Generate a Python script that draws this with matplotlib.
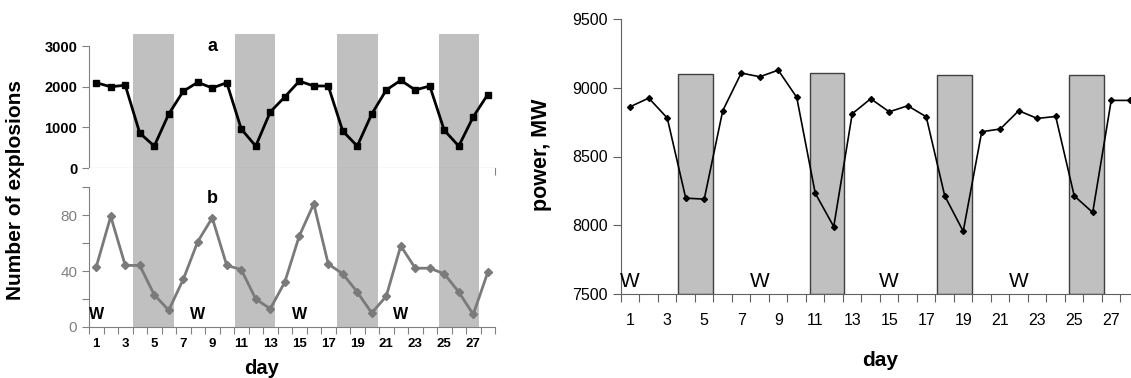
"""Explosions vs. power load by day, with weekends shaded"""

import numpy as np
import matplotlib.pyplot as plt

plt.rcParams['font.family'] = ['Liberation Sans', 'DejaVu Sans']

days = np.arange(1, 29)

# panel a: number of explosions (large)
expl_a = [2100, 2000, 2040, 860, 540, 1330, 1890, 2110, 1970, 2100,
          960, 540, 1380, 1750, 2140, 2020, 2020, 910, 540, 1330,
          1920, 2160, 1920, 2020, 930, 540, 1260, 1810]
# panel b: number of explosions (small)
expl_b = [43, 79, 44, 44, 23, 12, 34, 61, 78, 44,
          41, 20, 13, 32, 65, 88, 45, 38, 25, 10,
          22, 58, 42, 42, 38, 25, 9, 39]
# power consumption, MW
power = [8862, 8925, 8780, 8197, 8190, 8833, 9107, 9080, 9128, 8930,
         8233, 7990, 8811, 8920, 8825, 8869, 8789, 8214, 7956, 8680,
         8700, 8833, 8777, 8791, 8214, 8093, 8908, 8908]

# weekend shading (left chart)
wk_start = [3.55, 10.6, 17.6, 24.65]
wk_end = [6.35, 13.35, 20.4, 27.4]
# weekend bars (right chart)
bar_start = [3.6, 10.7, 17.6, 24.7]
bar_width = [1.85, 1.85, 1.9, 1.9]
bar_top = [9100, 9105, 9090, 9090]
w_days = [1, 8, 15, 22]

W, H = 1131, 378
fig = plt.figure(figsize=(W / 100, H / 100), dpi=100)

def fx(px):
    return px / W

def fy(px):
    return 1 - px / H

axa = fig.add_axes([fx(89), fy(168), fx(406), 134 / H])
axb = fig.add_axes([fx(89), fy(327), fx(406), 159 / H])
axr = fig.add_axes([fx(621), fy(294), fx(510), 275 / H])

spine_col = '#808080'
band_col = '#c0c0c0'

for ax in (axa, axb):
    ax.set_xlim(0.5, 28.5)
    for s0, s1 in zip(wk_start, wk_end):
        ax.axvspan(s0, s1, color=band_col, lw=0, zorder=0)
    ax.spines['top'].set_visible(False)
    ax.spines['right'].set_visible(False)
    ax.spines['left'].set_color(spine_col)
    ax.spines['bottom'].set_color(spine_col)
    ax.spines['bottom'].set_zorder(1)
    ax.set_xticks(np.arange(0.5, 28.6, 1))
    ax.set_xticklabels([])
    ax.tick_params(axis='x', which='major', length=5, color=spine_col)
    ax.tick_params(axis='y', color=spine_col, length=5)

# panel a
axa.plot(days, expl_a, color='black', lw=2, marker='s', ms=5, zorder=3)
axa.set_ylim(0, 3300)
axa.spines['left'].set_bounds(0, 3000)
axa.set_yticks([0, 1000, 2000, 3000])
axa.set_yticklabels(['0', '1000', '2000', '3000'], fontsize=10.5,
                    fontweight='bold')
axa.text(9, 3000, 'a', fontsize=13, fontweight='bold', ha='center',
         va='center')

# panel b
axb.plot(days, expl_b, color='#7a7a7a', lw=2, marker='D', ms=4, zorder=3)
axb.set_ylim(0, 113.6)
axb.spines['left'].set_bounds(0, 100)
axb.set_yticks([0, 20, 40, 60, 80, 100])
axb.set_yticklabels(['0', '', '40', '', '80', ''], fontsize=11,
                    color='#808080')
axb.set_xticks(np.arange(1, 28, 2), minor=True)
axb.set_xticklabels([str(d) for d in range(1, 28, 2)], minor=True,
                    fontsize=9.5, fontweight='bold')
axb.tick_params(axis='x', which='minor', length=0, pad=8)
axb.text(9, 92, 'b', fontsize=13, fontweight='bold', ha='center',
         va='center')
for d in w_days:
    axb.text(d, 9, 'W', fontsize=11.5, fontweight='bold', ha='center',
             va='center')

fig.text(fx(16), fy(190), 'Number of explosions', rotation=90,
         fontsize=15, fontweight='bold', ha='center', va='center')
fig.text(fx(262), fy(368), 'day', fontsize=14.5, fontweight='bold',
         ha='center', va='center')

# right chart: power
axr.bar(bar_start, np.array(bar_top) - 7500, width=bar_width, bottom=7500,
        align='edge', color=band_col, edgecolor='#404040', lw=1, zorder=1)
axr.plot(days, power, color='black', lw=1.2, marker='D', ms=3, zorder=3)
axr.set_xlim(0.5, 28.07)
axr.set_ylim(7500, 9500)
axr.spines['top'].set_visible(False)
axr.spines['right'].set_visible(False)
axr.spines['left'].set_color('#606060')
axr.spines['bottom'].set_color('#606060')
axr.set_yticks([7500, 8000, 8500, 9000, 9500])
axr.set_yticklabels(['7500', '8000', '8500', '9000', '9500'], fontsize=11.5)
axr.tick_params(axis='y', length=6, color='#606060')
axr.set_xticks(np.arange(0.5, 28, 1))
axr.set_xticklabels([])
axr.tick_params(axis='x', which='major', length=6, color='#606060')
axr.set_xticks(np.arange(1, 28, 2), minor=True)
axr.set_xticklabels([str(d) for d in range(1, 28, 2)], minor=True,
                    fontsize=11.5)
axr.tick_params(axis='x', which='minor', length=0, pad=14)
for d in w_days:
    axr.text(d, 7590, 'W', fontsize=15, ha='center', va='center')

fig.text(fx(542), fy(155), 'power, MW', rotation=90, fontsize=15.5,
         fontweight='bold', ha='center', va='center')
fig.text(fx(880), fy(360), 'day', fontsize=15, fontweight='bold',
         ha='center', va='center')

fig.savefig('out.png', dpi=100)
plt.close()
